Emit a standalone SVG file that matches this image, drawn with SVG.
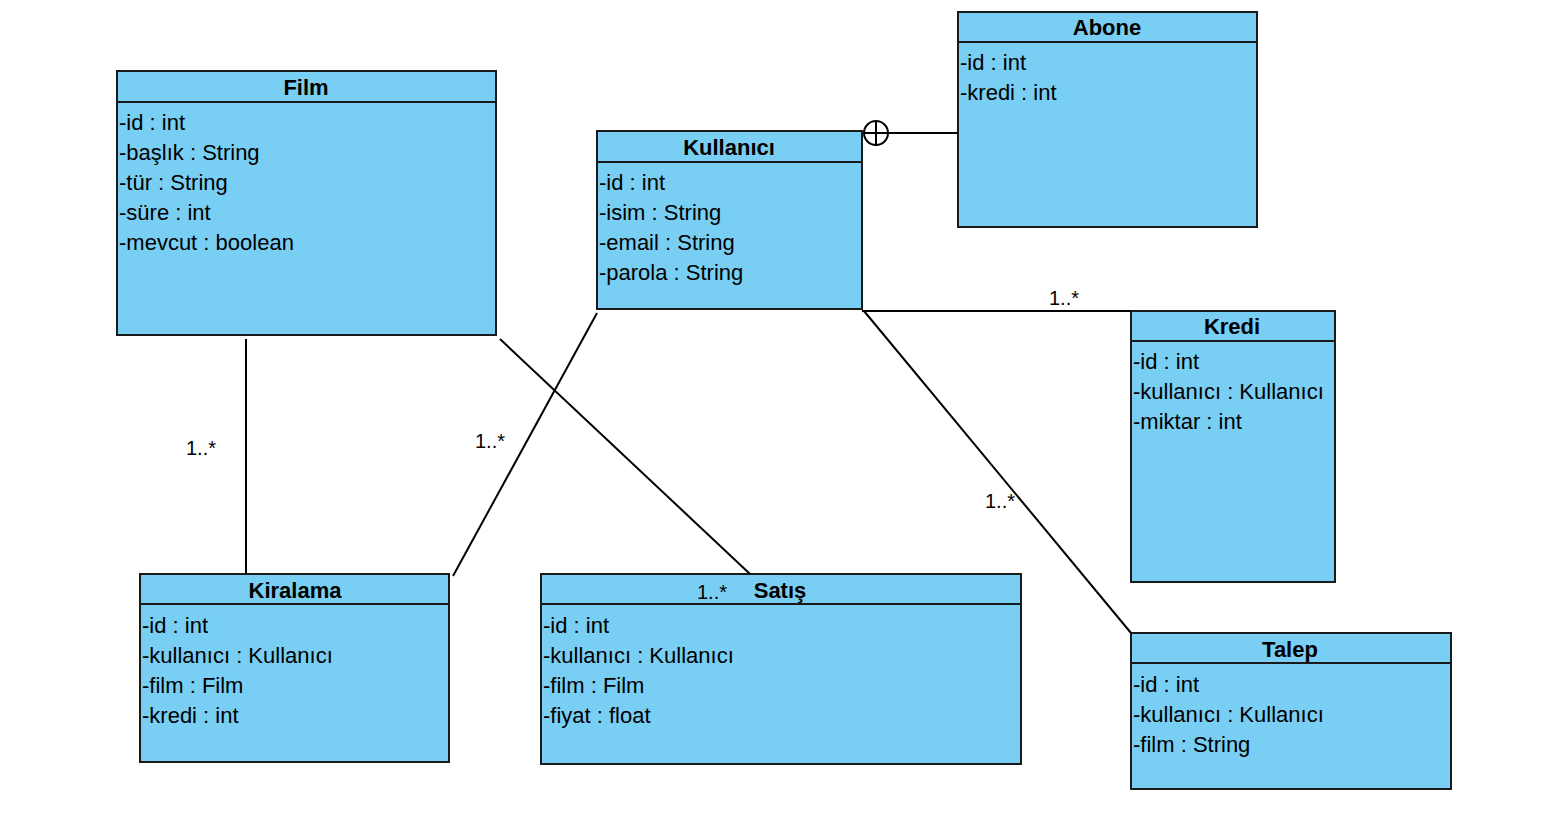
<svg xmlns="http://www.w3.org/2000/svg" width="1542" height="826" viewBox="0 0 1542 826">
<style>
.box{fill:#79CEF3;stroke:#1a1a1a;stroke-width:2}
.sep{stroke:#1a1a1a;stroke-width:2}
.t{font-family:"Liberation Sans",Arial,sans-serif;font-size:22px;font-weight:bold;text-anchor:middle;fill:#000}
.a{font-family:"Liberation Sans",Arial,sans-serif;font-size:22px;fill:#000}
.lbl{font-family:"Liberation Sans",Arial,sans-serif;font-size:20px;fill:#000}
.ln{stroke:#000;stroke-width:2;fill:none}
</style>
<rect width="1542" height="826" fill="#fff"/>
<g id="film">
<rect class="box" x="117" y="71" width="379" height="264"/>
<line class="sep" x1="117" y1="102" x2="496" y2="102"/>
<text class="t" x="306" y="95">Film</text>
<text class="a" x="119" y="130">-id : int</text>
<text class="a" x="119" y="160">-başlık : String</text>
<text class="a" x="119" y="190">-tür : String</text>
<text class="a" x="119" y="220">-süre : int</text>
<text class="a" x="119" y="250">-mevcut : boolean</text>
</g>
<g id="kullanici">
<rect class="box" x="597" y="131" width="265" height="178"/>
<line class="sep" x1="597" y1="162" x2="862" y2="162"/>
<text class="t" x="729" y="155">Kullanıcı</text>
<text class="a" x="599" y="190">-id : int</text>
<text class="a" x="599" y="220">-isim : String</text>
<text class="a" x="599" y="250">-email : String</text>
<text class="a" x="599" y="280">-parola : String</text>
</g>
<g id="abone">
<rect class="box" x="958" y="12" width="299" height="215"/>
<line class="sep" x1="958" y1="42" x2="1257" y2="42"/>
<text class="t" x="1107" y="35">Abone</text>
<text class="a" x="960" y="70">-id : int</text>
<text class="a" x="960" y="100">-kredi : int</text>
</g>
<g id="kredi">
<rect class="box" x="1131" y="311" width="204" height="271"/>
<line class="sep" x1="1131" y1="341" x2="1335" y2="341"/>
<text class="t" x="1232" y="334">Kredi</text>
<text class="a" x="1133" y="369">-id : int</text>
<text class="a" x="1133" y="399">-kullanıcı : Kullanıcı</text>
<text class="a" x="1133" y="429">-miktar : int</text>
</g>
<g id="talep">
<rect class="box" x="1131" y="633" width="320" height="156"/>
<line class="sep" x1="1131" y1="663" x2="1451" y2="663"/>
<text class="t" x="1290" y="657">Talep</text>
<text class="a" x="1133" y="692">-id : int</text>
<text class="a" x="1133" y="722">-kullanıcı : Kullanıcı</text>
<text class="a" x="1133" y="752">-film : String</text>
</g>
<g id="kiralama">
<rect class="box" x="140" y="574" width="309" height="188"/>
<line class="sep" x1="140" y1="604" x2="449" y2="604"/>
<text class="t" x="295" y="598">Kiralama</text>
<text class="a" x="142" y="633">-id : int</text>
<text class="a" x="142" y="663">-kullanıcı : Kullanıcı</text>
<text class="a" x="142" y="693">-film : Film</text>
<text class="a" x="142" y="723">-kredi : int</text>
</g>
<g id="satis">
<rect class="box" x="541" y="574" width="480" height="190"/>
<line class="sep" x1="541" y1="604" x2="1021" y2="604"/>
<text class="t" x="780" y="598">Satış</text>
<text class="a" x="543" y="633">-id : int</text>
<text class="a" x="543" y="663">-kullanıcı : Kullanıcı</text>
<text class="a" x="543" y="693">-film : Film</text>
<text class="a" x="543" y="723">-fiyat : float</text>
</g>
<g id="connectors">
<line class="ln" x1="246" y1="339" x2="246" y2="574"/>
<line class="ln" x1="500" y1="339" x2="750" y2="574"/>
<line class="ln" x1="597" y1="313" x2="453" y2="576"/>
<line class="ln" x1="862" y1="311" x2="1131" y2="311"/>
<line class="ln" x1="864" y1="311" x2="1131" y2="633"/>
<line class="ln" x1="888" y1="133" x2="958" y2="133"/>
<circle class="ln" cx="876" cy="133" r="12"/>
<line class="ln" x1="864" y1="133" x2="888" y2="133"/>
<line class="ln" x1="876" y1="121" x2="876" y2="145"/>
<text class="lbl" x="186" y="455">1..*</text>
<text class="lbl" x="475" y="448">1..*</text>
<text class="lbl" x="1049" y="305">1..*</text>
<text class="lbl" x="985" y="508">1..*</text>
<text class="lbl" x="697" y="599">1..*</text>
</g>
</svg>
